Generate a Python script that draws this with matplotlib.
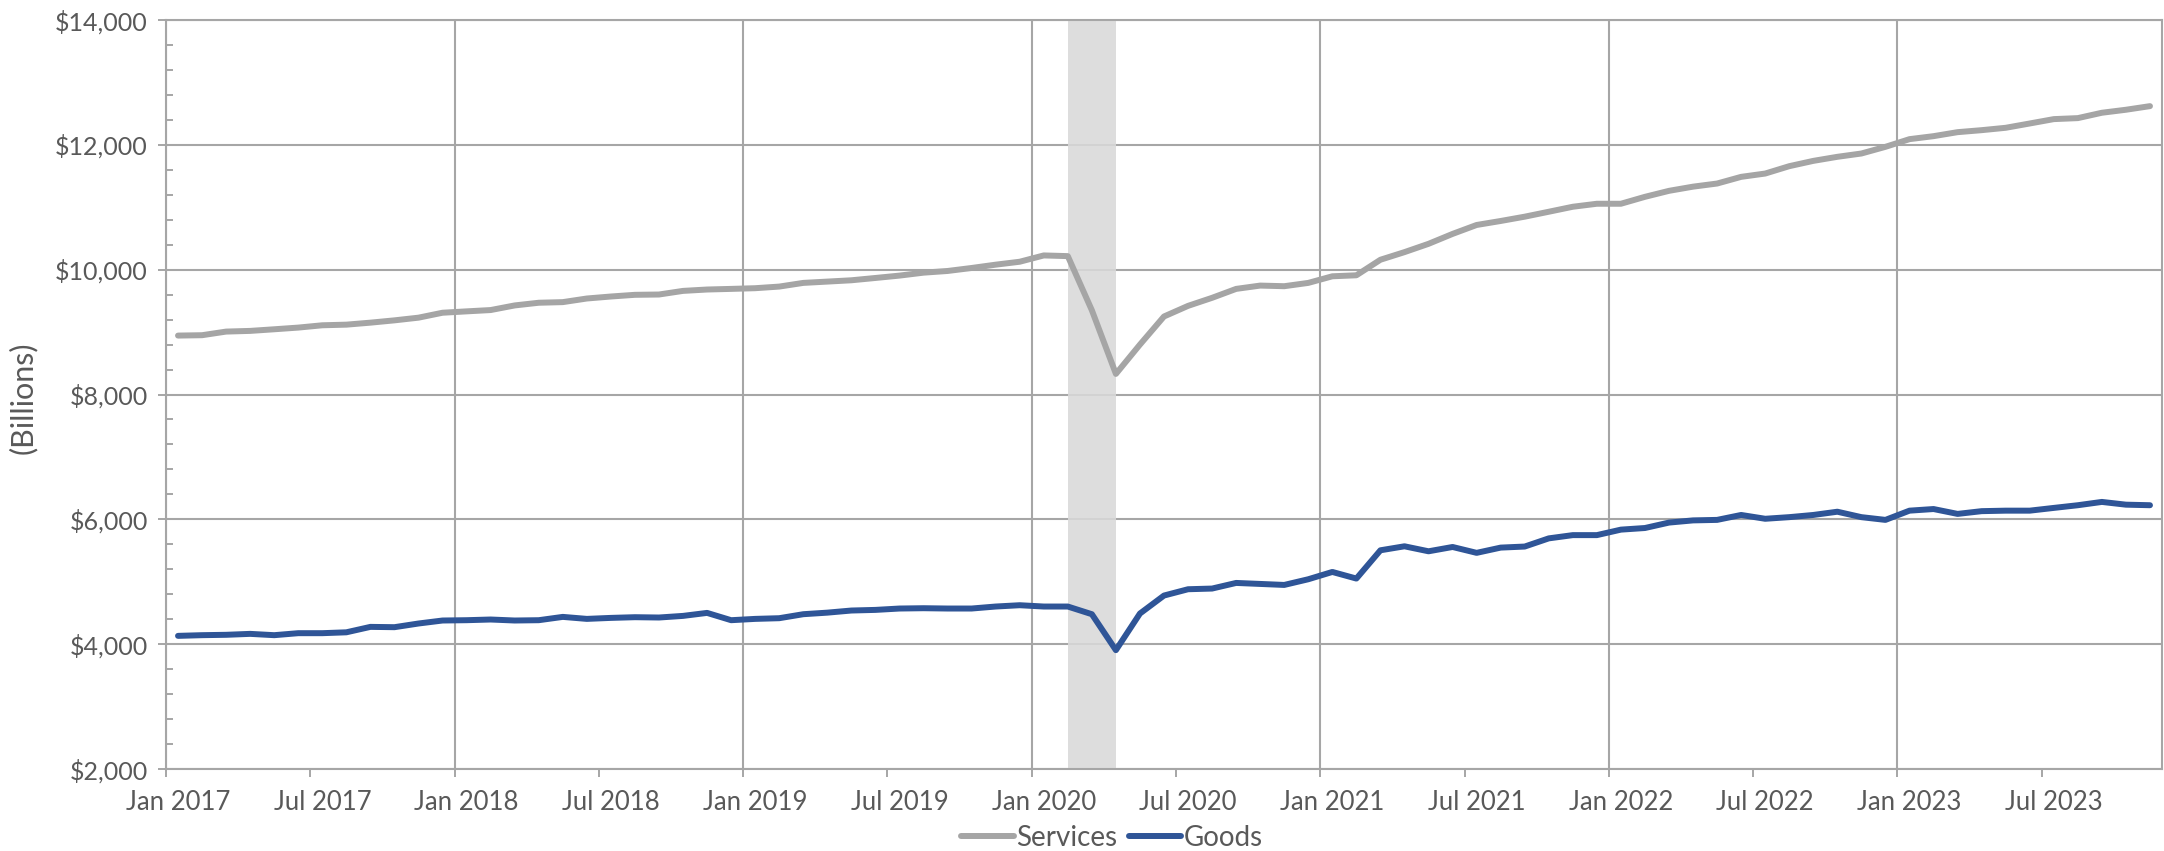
import matplotlib
matplotlib.use("Agg")
import matplotlib.pyplot as plt
import numpy as np
import pandas as pd

# monthly PCE, billions of dollars
months = pd.date_range("2017-01-01", periods=83, freq="MS")

services = [
    8944, 8950, 9008, 9019, 9045, 9072, 9109, 9119, 9151, 9188, 9231, 9310,
    9332, 9353, 9427, 9470, 9480, 9538, 9570, 9597, 9602, 9660, 9682, 9692,
    9703, 9729, 9788, 9809, 9830, 9867, 9905, 9952, 9979, 10027, 10080, 10127,
    10228, 10217, 9350, 8330, 8800, 9250, 9420, 9549, 9692, 9745, 9735, 9788,
    9894, 9910, 10159, 10281, 10414, 10573, 10716, 10780, 10849, 10928, 11008, 11056,
    11056, 11167, 11263, 11330, 11380, 11487, 11540, 11658, 11743, 11808, 11861, 11968,
    12091, 12139, 12203, 12235, 12273, 12342, 12412, 12428, 12514, 12562, 12620,
]
goods = [
    4133, 4144, 4150, 4165, 4144, 4176, 4176, 4190, 4277, 4272, 4331, 4379,
    4384, 4395, 4379, 4384, 4437, 4405, 4421, 4432, 4427, 4453, 4501, 4384,
    4405, 4416, 4480, 4505, 4539, 4549, 4571, 4576, 4571, 4571, 4603, 4624,
    4603, 4603, 4480, 3904, 4491, 4779, 4880, 4891, 4981, 4965, 4949, 5040,
    5157, 5051, 5504, 5568, 5488, 5557, 5463, 5547, 5564, 5695, 5747, 5747,
    5835, 5861, 5948, 5983, 5991, 6070, 6009, 6035, 6070, 6122, 6035, 5991,
    6139, 6165, 6087, 6131, 6139, 6139, 6183, 6226, 6279, 6235, 6226,
]
recession = ("2020-02-01", "2020-04-01")

plt.rcParams["font.family"] = ["Lato", "DejaVu Sans"]
txt = "#595959"
grid = "#A6A6A6"

fig = plt.figure(figsize=(21.64, 8.51), dpi=100)
ax = fig.add_axes([166 / 2164, 82 / 851, 1996 / 2164, 749 / 851])

# data points sit in the middle of each month slot
pos = np.arange(len(months)) + 0.5
idx = {d: i for i, d in enumerate(months)}
r0 = idx[pd.Timestamp(recession[0])] + 0.5
r1 = idx[pd.Timestamp(recession[1])] + 0.5
ax.axvspan(r0, r1, color="#D9D9D9", alpha=0.88, lw=0, zorder=2)

ax.plot(pos, services, color="#A5A5A5", lw=4.3, label="Services",
        solid_capstyle="round", solid_joinstyle="round", zorder=3)
ax.plot(pos, goods, color="#2F5597", lw=4.3, label="Goods",
        solid_capstyle="round", solid_joinstyle="round", zorder=4)

ax.set_xlim(0, len(months))
ax.set_ylim(2000, 14000)

# y axis
ax.set_yticks(np.arange(2000, 14001, 2000))
ax.set_yticks(np.arange(2000, 14001, 400), minor=True)
ax.yaxis.set_major_formatter(lambda v, p: f"${v:,.0f}")
ax.tick_params(axis="y", which="major", direction="out", length=6, width=1.4,
               color=grid, labelsize=18, labelcolor=txt, pad=7)
ax.tick_params(axis="y", which="minor", direction="in", length=5, width=1.4, color=grid)
ax.grid(axis="y", which="major", color=grid, lw=1.5, zorder=1)

# x axis: ticks on Jan / Jul boundaries, labels centred under the month
jan_jul = [i for i, d in enumerate(months) if d.month in (1, 7)]
ax.set_xticks(jan_jul)
ax.set_xticklabels([])
ax.set_xticks([i + 0.5 for i in jan_jul], minor=True)
ax.set_xticklabels([months[i].strftime("%b %Y") for i in jan_jul], minor=True)
ax.tick_params(axis="x", which="major", direction="out", length=6, width=1.4, color=grid)
ax.tick_params(axis="x", which="minor", length=0, labelsize=18.5, labelcolor=txt, pad=15)
for i, d in enumerate(months):
    if d.month == 1:
        ax.axvline(i, color=grid, lw=1.5, zorder=1)

for s in ax.spines.values():
    s.set_color(grid)
    s.set_linewidth(1.5)

fig.text(23 / 2164, 1 - 398 / 851, "(Billions)", rotation=90, fontsize=22,
         color=txt, ha="center", va="center")

ax.legend(loc="center", bbox_to_anchor=(1112 / 2164, 1 - 838 / 851),
          bbox_transform=fig.transFigure, ncol=2, frameon=False, fontsize=20,
          labelcolor=txt, handlelength=1.9, handletextpad=0.1, columnspacing=0.4,
          borderpad=0)

fig.savefig("out.png", dpi=100)
plt.close(fig)
